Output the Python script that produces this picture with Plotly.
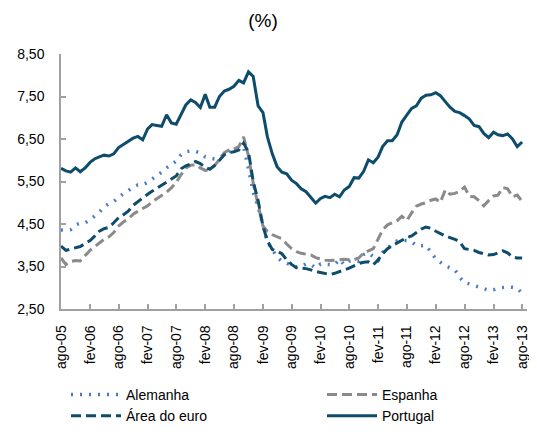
import pandas as pd
import plotly.graph_objects as go

months = pd.date_range("2005-08-01", periods=97, freq="MS")
tick_dates = months[::6]
tick_labels = ["ago-05", "fev-06", "ago-06", "fev-07", "ago-07", "fev-08", "ago-08", "fev-09",
               "ago-09", "fev-10", "ago-10", "fev-11", "ago-11", "fev-12", "ago-12", "fev-13", "ago-13"]

alemanha = [4.36, 4.35, 4.37, 4.48, 4.52, 4.53, 4.60, 4.68, 4.78, 4.90, 4.98, 5.03, 5.12, 5.22, 5.28, 5.37,
            5.42, 5.42, 5.48, 5.55, 5.63, 5.72, 5.82, 5.90, 5.98, 6.13, 6.20, 6.22, 6.21, 6.17, 6.08, 6.05,
            6.03, 6.07, 6.12, 6.20, 6.24, 6.28, 6.32, 5.80, 5.25, 4.90, 4.45, 4.08, 3.90, 3.72, 3.62, 3.58,
            3.54, 3.49, 3.50, 3.56, 3.55, 3.46, 3.56, 3.56, 3.55, 3.54, 3.67, 3.54, 3.62, 3.64, 3.62, 3.78,
            3.82, 3.74, 3.64, 3.83, 3.90, 4.06, 4.10, 4.11, 4.11, 4.08, 3.99, 3.99, 4.00, 3.84, 3.68, 3.60,
            3.52, 3.47, 3.42, 3.25, 3.12, 3.09, 3.06, 3.02, 2.98, 2.94, 2.95, 2.99, 3.01, 3.02, 3.01, 2.99,
            2.87]

espanha = [3.70, 3.55, 3.62, 3.64, 3.63, 3.75, 3.88, 3.96, 4.06, 4.14, 4.20, 4.30, 4.45, 4.55, 4.62, 4.73,
           4.80, 4.86, 4.93, 5.02, 5.10, 5.17, 5.25, 5.35, 5.48, 5.66, 5.82, 5.88, 5.90, 5.82, 5.76, 5.78,
           5.88, 6.02, 6.18, 6.24, 6.26, 6.32, 6.55, 6.10, 5.46, 4.95, 4.45, 4.33, 4.25, 4.20, 4.15, 4.03,
           3.92, 3.85, 3.81, 3.79, 3.77, 3.71, 3.67, 3.65, 3.64, 3.65, 3.67, 3.67, 3.66, 3.66, 3.70, 3.82,
           3.87, 3.92, 4.15, 4.36, 4.48, 4.52, 4.58, 4.68, 4.58, 4.76, 4.92, 4.97, 5.00, 5.06, 5.09, 5.01,
           5.30, 5.20, 5.22, 5.27, 5.37, 5.15, 5.14, 5.05, 4.93, 5.05, 5.16, 5.18, 5.36, 5.33, 5.14, 5.18,
           5.03]

area_euro = [3.98, 3.88, 3.91, 3.94, 3.97, 4.04, 4.11, 4.21, 4.33, 4.39, 4.42, 4.53, 4.65, 4.72, 4.80, 4.94,
             5.03, 5.11, 5.20, 5.27, 5.34, 5.41, 5.48, 5.54, 5.63, 5.80, 5.87, 5.91, 5.97, 5.92, 5.83, 5.79,
             5.88, 6.00, 6.13, 6.18, 6.20, 6.24, 6.40, 6.20, 5.50, 5.05, 4.45, 4.10, 3.90, 3.86, 3.80, 3.66,
             3.55, 3.47, 3.46, 3.45, 3.42, 3.38, 3.36, 3.34, 3.31, 3.34, 3.39, 3.42, 3.46, 3.51, 3.57, 3.60,
             3.61, 3.54, 3.66, 3.80, 3.92, 3.99, 4.06, 4.12, 4.18, 4.22, 4.30, 4.38, 4.43, 4.40, 4.33, 4.27,
             4.22, 4.18, 4.14, 4.08, 3.92, 3.90, 3.88, 3.83, 3.80, 3.77, 3.78, 3.83, 3.87, 3.82, 3.72, 3.70,
             3.70]

portugal = [5.81, 5.75, 5.72, 5.82, 5.73, 5.82, 5.95, 6.03, 6.08, 6.12, 6.10, 6.15, 6.30, 6.38, 6.44, 6.52,
            6.56, 6.48, 6.74, 6.84, 6.82, 6.80, 7.07, 6.88, 6.85, 7.10, 7.30, 7.42, 7.36, 7.24, 7.55, 7.25,
            7.25, 7.50, 7.63, 7.67, 7.74, 7.88, 7.82, 8.08, 7.97, 7.28, 7.12, 6.55, 6.15, 5.85, 5.72, 5.68,
            5.53, 5.45, 5.33, 5.26, 5.13, 4.99, 5.10, 5.15, 5.12, 5.20, 5.14, 5.30, 5.38, 5.59, 5.58, 5.74,
            6.01, 5.94, 6.08, 6.32, 6.46, 6.46, 6.60, 6.90, 7.06, 7.22, 7.28, 7.46, 7.53, 7.54, 7.59, 7.52,
            7.38, 7.25, 7.15, 7.12, 7.05, 6.97, 6.82, 6.79, 6.63, 6.53, 6.66, 6.60, 6.58, 6.62, 6.50, 6.32,
            6.43]

y_ticks = [2.5, 3.5, 4.5, 5.5, 6.5, 7.5, 8.5]

# the page body adds an 8px offset; the figure is sized so that the whole window is used
W, H = 529, 424
DARK = "#0E4C6C"

fig = go.Figure()
fig.add_trace(go.Scatter(x=months, y=alemanha, name="Alemanha", mode="lines",
                         legend="legend", legendgroup="a",
                         line=dict(color="#4A7CC4", width=3.5, dash="2px,7px")))
fig.add_trace(go.Scatter(x=months, y=espanha, name="Espanha", mode="lines",
                         legend="legend2", legendgroup="b",
                         line=dict(color="#8A8A8A", width=3, dash="10px,5px")))
fig.add_trace(go.Scatter(x=months, y=area_euro, name="Área do euro", mode="lines",
                         legend="legend", legendgroup="c",
                         line=dict(color=DARK, width=3, dash="10px,5px")))
fig.add_trace(go.Scatter(x=months, y=portugal, name="Portugal", mode="lines",
                         legend="legend2", legendgroup="d",
                         line=dict(color=DARK, width=3)))

legend_common = dict(orientation="v", xref="container", xanchor="left",
                     yref="container", yanchor="top", y=1 - 371 / H,
                     itemwidth=50, tracegroupgap=4, font=dict(size=14),
                     bgcolor="rgba(0,0,0,0)", traceorder="normal")

fig.update_layout(
    width=W, height=H,
    margin=dict(l=53, r=10, t=46, b=123, autoexpand=False),
    paper_bgcolor="white", plot_bgcolor="white",
    separators=",.",
    font=dict(family="Arial, Liberation Sans, sans-serif", size=14, color="#000000"),
    title=dict(text="(%)", x=255 / W, xref="container", xanchor="center",
               y=1 - 12 / H, yref="container", yanchor="middle",
               font=dict(size=19, color="#000000")),
    showlegend=True,
    legend=dict(x=58 / W, **legend_common),
    legend2=dict(x=314 / W, **legend_common),
)
fig.update_xaxes(
    range=[months[0], pd.Timestamp("2013-09-01")],
    tickvals=tick_dates, ticktext=tick_labels, tickangle=-90,
    showgrid=False, zeroline=False, automargin=False,
    showline=True, linecolor="#A0A0A0", linewidth=1.5,
    ticks="inside", ticklen=5, tickcolor="#A0A0A0", tickwidth=1.5,
    ticklabelstandoff=9,
    tickfont=dict(size=14),
)
fig.update_yaxes(
    range=[2.5, 8.5], tickvals=y_ticks, tickformat=".2f",
    showgrid=False, zeroline=False, automargin=False,
    showline=True, linecolor="#A0A0A0", linewidth=1.5,
    ticks="inside", ticklen=5, tickcolor="#A0A0A0", tickwidth=1.5,
    ticklabelstandoff=12,
    tickfont=dict(size=14),
)

fig.write_html("out.html")
